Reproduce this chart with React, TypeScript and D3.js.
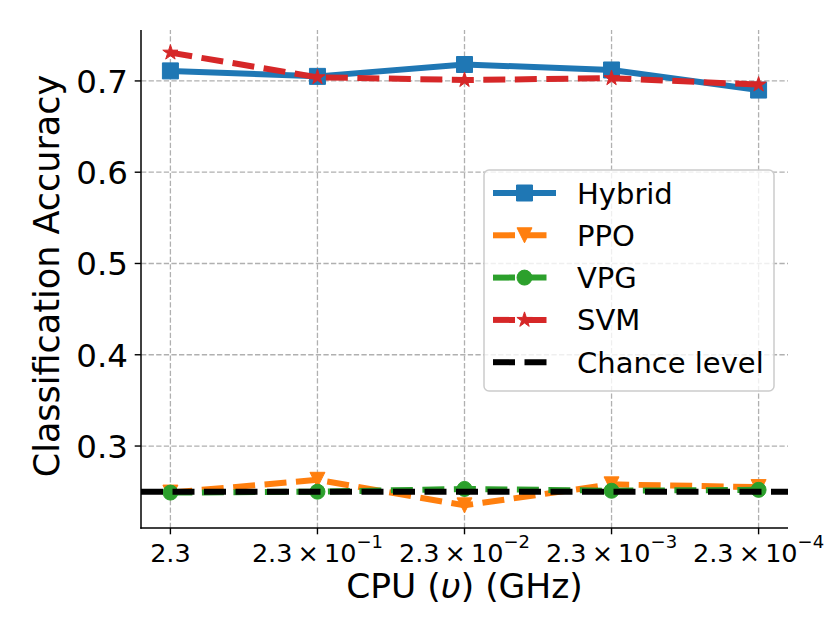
import * as d3 from "d3";
import { useEffect, useRef } from "react";

// x positions are categorical: 2.3, 2.3e-1, ... 2.3e-4
const xExponents: (number | null)[] = [null, -1, -2, -3, -4];

const hybrid = [0.711, 0.705, 0.718, 0.712, 0.69];
const ppo = [0.249, 0.263, 0.235, 0.258, 0.255];
const vpg = [0.249, 0.25, 0.253, 0.251, 0.252];
const svm = [0.731, 0.704, 0.701, 0.703, 0.696];
const chance = 0.25;

const yTicks = [0.3, 0.4, 0.5, 0.6, 0.7];

const seriesNames = ["Hybrid", "PPO", "VPG", "SVM", "Chance level"];

type Marker = "square" | "triangleDown" | "circle" | "star" | null;

const triangleDown = {
  draw(ctx: any, size: number) {
    const s = Math.sqrt(size) / 2;
    ctx.moveTo(0, s);
    ctx.lineTo(-s, -s);
    ctx.lineTo(s, -s);
    ctx.closePath();
  },
};

const star5 = {
  draw(ctx: any, size: number) {
    const R = Math.sqrt(size) / 2;
    const r = R * 0.381966;
    for (let i = 0; i < 10; i++) {
      const a = (i * Math.PI) / 5 - Math.PI / 2;
      const rr = i % 2 === 0 ? R : r;
      const px = rr * Math.cos(a);
      const py = rr * Math.sin(a);
      if (i === 0) ctx.moveTo(px, py);
      else ctx.lineTo(px, py);
    }
    ctx.closePath();
  },
};

function markerPath(m: Marker) {
  if (m === "square") return d3.symbol().type(d3.symbolSquare).size(16 * 16)();
  if (m === "circle") return d3.symbol().type(d3.symbolCircle).size(Math.PI * 7.5 * 7.5)();
  if (m === "triangleDown") return d3.symbol().type(triangleDown as any).size(15 * 15)();
  if (m === "star") return d3.symbol().type(star5 as any).size(16 * 16)();
  return "";
}

export default function App() {
  const svgRef = useRef<SVGSVGElement | null>(null);

  useEffect(() => {
    if (!svgRef.current) return;
    const svg = d3.select(svgRef.current);
    svg.selectAll("*").remove();

    const width = 830;
    const height = 623;
    const margin = { top: 30, right: 42, bottom: 95, left: 141 };
    const font = "DejaVu Sans, sans-serif";

    const x = d3
      .scaleLinear()
      .domain([-0.2, xExponents.length - 1 + 0.2])
      .range([margin.left, width - margin.right]);

    const all = [...hybrid, ...ppo, ...vpg, ...svm, chance];
    const lo = d3.min(all) as number;
    const hi = d3.max(all) as number;
    const pad = (hi - lo) * 0.05;
    const y = d3
      .scaleLinear()
      .domain([lo - pad, hi + pad])
      .range([height - margin.bottom, margin.top]);

    const x0 = margin.left;
    const x1 = width - margin.right;
    const y0 = height - margin.bottom;
    const y1 = margin.top;

    // grid
    const grid = svg.append("g");
    xExponents.forEach((_, i) => {
      grid
        .append("line")
        .attr("x1", x(i))
        .attr("x2", x(i))
        .attr("y1", y0)
        .attr("y2", y1)
        .attr("stroke", "#b0b0b0")
        .attr("stroke-width", 1.3)
        .attr("stroke-dasharray", "5.3 2.3");
    });
    yTicks.forEach((t) => {
      grid
        .append("line")
        .attr("x1", x0)
        .attr("x2", x1)
        .attr("y1", y(t))
        .attr("y2", y(t))
        .attr("stroke", "#b0b0b0")
        .attr("stroke-width", 1.3)
        .attr("stroke-dasharray", "5.3 2.3");
    });

    const series: { values: number[]; color: string; dash: string | null; marker: Marker }[] = [
      { values: hybrid, color: "#1f77b4", dash: null, marker: "square" },
      { values: ppo, color: "#ff7f0e", dash: "22 9.5", marker: "triangleDown" },
      { values: vpg, color: "#2ca02c", dash: "22 9.5", marker: "circle" },
      { values: svm, color: "#d62728", dash: "22 9.5", marker: "star" },
    ];

    const line = d3
      .line<number>()
      .x((_, i) => x(i))
      .y((d) => y(d));

    const plot = svg.append("g");
    series.forEach((s) => {
      plot
        .append("path")
        .datum(s.values)
        .attr("fill", "none")
        .attr("stroke", s.color)
        .attr("stroke-width", 6)
        .attr("stroke-linejoin", "round")
        .attr("stroke-dasharray", s.dash ?? null)
        .attr("d", line);
      plot
        .selectAll(null)
        .data(s.values)
        .enter()
        .append("path")
        .attr("transform", (d, i) => `translate(${x(i)},${y(d)})`)
        .attr("d", markerPath(s.marker))
        .attr("fill", s.color)
        .attr("stroke", s.color)
        .attr("stroke-width", 1);
    });

    // chance level
    plot
      .append("line")
      .attr("x1", x0)
      .attr("x2", x1)
      .attr("y1", y(chance))
      .attr("y2", y(chance))
      .attr("stroke", "#000")
      .attr("stroke-width", 6)
      .attr("stroke-dasharray", "22 9.5");

    // spines
    svg
      .append("line")
      .attr("x1", x0)
      .attr("x2", x0)
      .attr("y1", y1)
      .attr("y2", y0 + 0.7)
      .attr("stroke", "#000")
      .attr("stroke-width", 1.5);
    svg
      .append("line")
      .attr("x1", x0 - 0.7)
      .attr("x2", x1)
      .attr("y1", y0)
      .attr("y2", y0)
      .attr("stroke", "#000")
      .attr("stroke-width", 1.5);

    // y ticks
    const yAxis = svg.append("g");
    yTicks.forEach((t) => {
      yAxis
        .append("line")
        .attr("x1", x0)
        .attr("x2", x0 - 6.3)
        .attr("y1", y(t))
        .attr("y2", y(t))
        .attr("stroke", "#000")
        .attr("stroke-width", 1.4);
      yAxis
        .append("text")
        .attr("x", x0 - 13)
        .attr("y", y(t) + 11.8)
        .attr("text-anchor", "end")
        .attr("font-family", font)
        .attr("font-size", 32.5)
        .attr("fill", "#000")
        .text(d3.format(".1f")(t));
    });

    // x ticks
    const xAxis = svg.append("g");
    xExponents.forEach((e, i) => {
      xAxis
        .append("line")
        .attr("x1", x(i))
        .attr("x2", x(i))
        .attr("y1", y0)
        .attr("y2", y0 + 6.3)
        .attr("stroke", "#000")
        .attr("stroke-width", 1.4);
      const t = xAxis
        .append("text")
        .attr("x", x(i))
        .attr("y", 562)
        .attr("text-anchor", "middle")
        .attr("font-family", font)
        .attr("font-size", 25.5)
        .attr("fill", "#000");
      if (e === null) {
        t.text("2.3");
      } else {
        t.append("tspan").text("2.3\u2009\u00d7\u200910");
        t.append("tspan")
          .attr("font-size", 18)
          .attr("dy", -14)
          .text(`\u2212${Math.abs(e)}`);
      }
    });

    // axis labels
    const xl = svg
      .append("text")
      .attr("x", (x0 + x1) / 2)
      .attr("y", 598)
      .attr("text-anchor", "middle")
      .attr("font-family", font)
      .attr("font-size", 34.5)
      .attr("fill", "#000");
    xl.append("tspan").text("CPU (");
    xl.append("tspan").attr("font-style", "italic").text("\u03c5");
    xl.append("tspan").text(") (GHz)");

    svg
      .append("text")
      .attr("transform", `translate(58.5,${(y0 + y1) / 2 - 3}) rotate(-90)`)
      .attr("text-anchor", "middle")
      .attr("font-family", font)
      .attr("font-size", 35)
      .attr("fill", "#000")
      .text("Classification Accuracy");

    // legend
    const legend = svg.append("g");
    legend
      .append("rect")
      .attr("x", 484)
      .attr("y", 170)
      .attr("width", 290)
      .attr("height", 221)
      .attr("rx", 5)
      .attr("fill", "#fff")
      .attr("fill-opacity", 0.8)
      .attr("stroke", "#cccccc")
      .attr("stroke-width", 1.5);

    const legendItems = [
      ...series,
      { values: [], color: "#000", dash: "22 9.5", marker: null as Marker },
    ];
    legendItems.forEach((s, i) => {
      const cy = 193 + i * 42.3;
      legend
        .append("line")
        .attr("x1", 493)
        .attr("x2", 556)
        .attr("y1", cy)
        .attr("y2", cy)
        .attr("stroke", s.color)
        .attr("stroke-width", 6)
        .attr("stroke-dasharray", s.dash ?? null);
      if (s.marker) {
        legend
          .append("path")
          .attr("transform", `translate(524.5,${cy})`)
          .attr("d", markerPath(s.marker))
          .attr("fill", s.color)
          .attr("stroke", s.color)
          .attr("stroke-width", 1);
      }
      legend
        .append("text")
        .attr("x", 577)
        .attr("y", cy + 10.5)
        .attr("font-family", font)
        .attr("font-size", 29)
        .attr("fill", "#000")
        .text(seriesNames[i]);
    });
  }, []);

  return (
    <svg
      ref={svgRef}
      width={830}
      height={623}
      viewBox="0 0 830 623"
      style={{ position: "absolute", left: 0, top: 0, background: "#fff" }}
    />
  );
}
